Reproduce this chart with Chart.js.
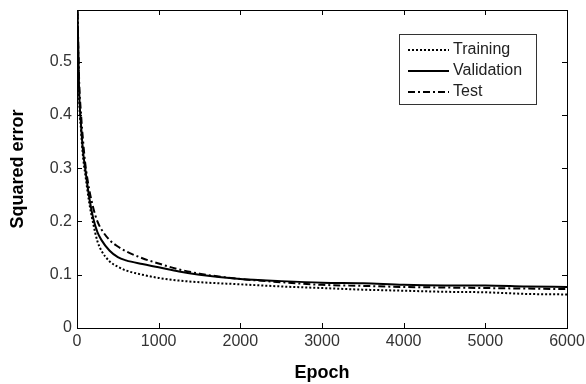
<!DOCTYPE html>
<html>
<head>
<meta charset="utf-8">
<script src="https://cdn.jsdelivr.net/npm/chart.js@4"></script>
<style>
  html, body { margin: 0; padding: 0; background: #fff; }
  #box { width: 586px; height: 384px; }
</style>
</head>
<body>
<div id="box"><canvas id="errGraph"></canvas></div>
<script>
// values
const epochs     = [0, 25, 50, 75, 100, 150, 200, 250, 300, 400, 500, 600, 800, 1000, 1250, 1500, 2000, 2500, 3000, 3500, 4000, 4500, 5000, 5500, 6000];
const training   = [0.65, 0.44, 0.37, 0.32, 0.29, 0.235, 0.195, 0.163, 0.145, 0.125, 0.115, 0.108, 0.100, 0.094, 0.089, 0.086, 0.082, 0.078, 0.075, 0.072, 0.070, 0.068, 0.067, 0.064, 0.063];
const validation = [0.65, 0.45, 0.38, 0.33, 0.30, 0.245, 0.205, 0.180, 0.165, 0.145, 0.133, 0.127, 0.120, 0.114, 0.106, 0.100, 0.092, 0.088, 0.085, 0.084, 0.081, 0.080, 0.080, 0.078, 0.077];
const test       = [0.65, 0.47, 0.40, 0.35, 0.31, 0.260, 0.225, 0.200, 0.185, 0.165, 0.153, 0.144, 0.131, 0.121, 0.110, 0.102, 0.092, 0.086, 0.081, 0.079, 0.077, 0.076, 0.075, 0.074, 0.073];
const seriesNames = ['Training', 'Validation', 'Test'];

const pts = arr => epochs.map((e, i) => ({ x: e, y: arr[i] }));

// box round the plot, ticks pointing in, legend in the top right
const framePlugin = {
    id: 'frame',
    afterDraw(chart) {
        const ctx = chart.ctx;
        const a = chart.chartArea;
        const xs = chart.scales.x, ys = chart.scales.y;
        ctx.save();
        ctx.strokeStyle = '#000';
        ctx.lineWidth = 1;
        ctx.strokeRect(a.left + 0.5, a.top + 0.5, a.right - a.left, a.bottom - a.top);
        ctx.beginPath();
        xs.ticks.forEach(t => {
            const px = Math.round(xs.getPixelForValue(t.value)) + 0.5;
            ctx.moveTo(px, a.bottom); ctx.lineTo(px, a.bottom - 5);
            ctx.moveTo(px, a.top); ctx.lineTo(px, a.top + 5);
        });
        ys.ticks.forEach(t => {
            const py = Math.round(ys.getPixelForValue(t.value)) + 0.5;
            ctx.moveTo(a.left, py); ctx.lineTo(a.left + 5, py);
            ctx.moveTo(a.right, py); ctx.lineTo(a.right - 5, py);
        });
        ctx.stroke();

        // legend
        const lx = a.right - 168, ly = a.top + 24, lw = 137, lh = 70;
        ctx.fillStyle = '#fff';
        ctx.fillRect(lx, ly, lw, lh);
        ctx.strokeStyle = '#333';
        ctx.strokeRect(lx + 0.5, ly + 0.5, lw, lh);
        ctx.font = '16px "Liberation Sans", Arial, sans-serif';
        ctx.textBaseline = 'middle';
        chart.data.datasets.forEach((ds, i) => {
            const y = ly + 16 + i * 21;
            ctx.strokeStyle = ds.borderColor;
            ctx.lineWidth = ds.borderWidth;
            ctx.setLineDash(ds.borderDash || []);
            ctx.beginPath();
            ctx.moveTo(lx + 9, y); ctx.lineTo(lx + 50, y);
            ctx.stroke();
            ctx.setLineDash([]);
            ctx.fillStyle = '#222';
            ctx.fillText(ds.label, lx + 54, y);
        });
        ctx.restore();
    }
};

new Chart(document.querySelector('#errGraph'), {
    type: 'line',
    data: {
        datasets: [
            { label: seriesNames[0], data: pts(training), borderColor: '#000', borderWidth: 2, borderDash: [2, 2] },
            { label: seriesNames[1], data: pts(validation), borderColor: '#000', borderWidth: 2 },
            { label: seriesNames[2], data: pts(test), borderColor: '#000', borderWidth: 2, borderDash: [7, 3, 2, 3] },
        ],
    },
    options: {
        responsive: true,
        maintainAspectRatio: false,
        animation: false,
        layout: { padding: { top: 10, right: 19, left: 0, bottom: 0 } },
        elements: { point: { radius: 0 }, line: { cubicInterpolationMode: 'monotone' } },
        plugins: { legend: { display: false }, tooltip: { enabled: false } },
        scales: {
            x: {
                type: 'linear',
                min: 0, max: 6000,
                grid: { display: false, drawTicks: false },
                border: { display: false },
                ticks: { stepSize: 1000, padding: 4, color: '#333', font: { family: 'Liberation Sans', size: 16 },
                         callback: v => String(v) },
                title: { display: true, text: 'Epoch', color: '#000', padding: { top: 1, bottom: 0 }, font: { family: 'Liberation Sans', size: 18, weight: 'bold' } },
                afterFit: s => { s.height = 56; s.paddingLeft = 0; s.paddingRight = 0; }
            },
            y: {
                min: 0, max: 0.597,
                grid: { display: false, drawTicks: false },
                border: { display: false },
                ticks: { stepSize: 0.1, includeBounds: false, padding: 5, color: '#333', font: { family: 'Liberation Sans', size: 16 },
                         callback: v => String(Number(v.toFixed(1))) },
                title: { display: true, text: 'Squared error', color: '#000', padding: { top: 7, bottom: 0 }, font: { family: 'Liberation Sans', size: 18, weight: 'bold' } },
                afterFit: s => { s.width = 77; s.paddingTop = 0; s.paddingBottom = 0; }
            }
        }
    },
    plugins: [framePlugin]
});
</script>
</body>
</html>
